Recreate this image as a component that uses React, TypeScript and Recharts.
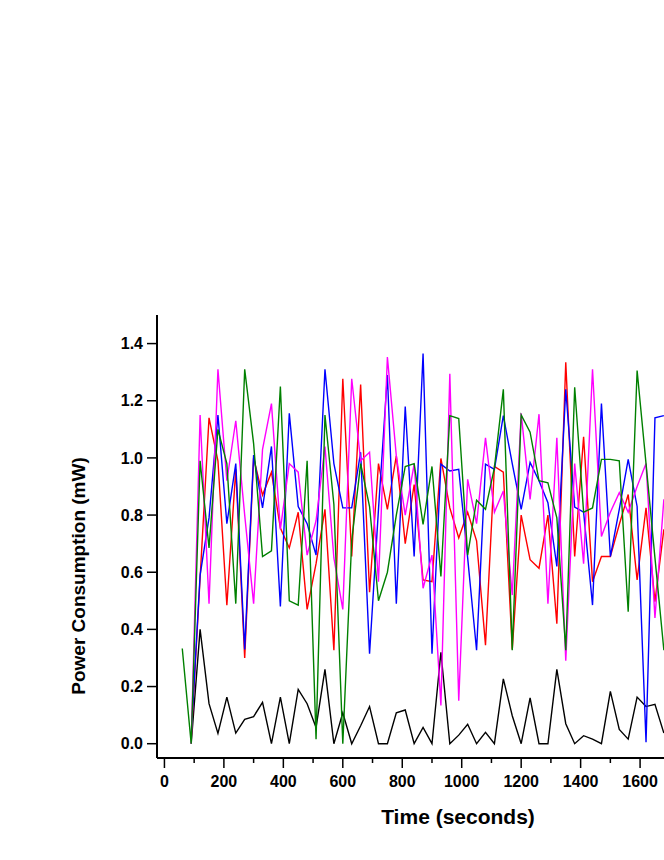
import React from 'react';
import { LineChart, Line, XAxis, YAxis } from 'recharts';

// sample times (s), one reading every 30 s
const TIME = [
  60, 90, 120, 150, 180, 210, 240, 270, 300, 330, 360, 390, 420, 450, 480, 510, 540, 570, 600,
  630, 660, 690, 720, 750, 780, 810, 840, 870, 900, 930, 960, 990, 1020, 1050, 1080, 1110, 1140,
  1170, 1200, 1230, 1260, 1290, 1320, 1350, 1380, 1410, 1440, 1470, 1500, 1530, 1560, 1590, 1620,
  1650, 1680,
];

const BLACK = [
  null, 0, 0.4, 0.14, 0.036, 0.163, 0.037, 0.085, 0.095, 0.145, 0, 0.163, 0, 0.19, 0.14, 0.057,
  0.26, 0, 0.108, 0, 0.063, 0.13, 0, 0, 0.108, 0.118, 0, 0.057, 0, 0.32, 0, 0.03, 0.068, 0, 0.04,
  0, 0.227, 0.098, 0, 0.16, 0, 0, 0.26, 0.07, 0, 0.028, 0.016, 0, 0.183, 0.05, 0.016, 0.163, 0.13,
  0.138, 0.037,
];

const RED = [
  null, 0.02, 0.58, 1.14, 0.99, 0.485, 0.96, 0.3, 1.0, 0.87, 0.95, 0.755, 0.685, 0.81, 0.47, 0.63,
  0.82, 0.327, 1.277, 0.655, 1.257, 0.53, 0.98, 0.82, 1.007, 0.7, 0.907, 0.573, 0.567, 0.998, 0.825,
  0.72, 0.81, 0.71, 0.345, 0.97, 0.95, 0.33, 0.8, 0.644, 0.614, 0.8, 0.42, 1.335, 0.655, 1.074,
  0.567, 0.655, 0.655, 0.767, 0.872, 0.573, 0.825, 0.497, 0.75,
];

const BLUE = [
  null, 0.03, 0.59, 0.79, 1.15, 0.77, 0.98, 0.33, 1.01, 0.825, 1.04, 0.48, 1.156, 0.83, 0.77, 0.66,
  1.31, 0.98, 0.825, 0.825, 1.02, 0.315, 0.82, 1.29, 0.49, 1.18, 0.655, 1.365, 0.315, 0.978, 0.954,
  0.96, 0.65, 0.327, 0.978, 0.96, 1.148, 0.98, 0.82, 0.984, 0.92, 0.843, 0.62, 1.24, 0.828, 0.81,
  0.485, 1.19, 0.655, 0.82, 0.995, 0.83, 0.005, 1.14, 1.148,
];

const MAGENTA = [
  null, 0, 1.15, 0.49, 1.31, 0.92, 1.13, 0.8, 0.49, 1.03, 1.19, 0.75, 0.98, 0.95, 0.66, 0.78, 1.04,
  0.65, 0.47, 1.277, 0.99, 1.02, 0.567, 1.353, 1.007, 0.8, 0.978, 0.544, 0.66, 0.134, 1.294, 0.15,
  0.925, 0.77, 1.07, 0.81, 0.884, 0.52, 1.156, 0.855, 1.153, 0.49, 1.07, 0.29, 0.98, 0.63, 1.31,
  0.725, 0.81, 0.878, 0.81, 0.9, 0.98, 0.44, 0.855,
];

const GREEN = [
  0.333, 0, 0.99, 0.685, 1.1, 0.98, 0.49, 1.31, 1.05, 0.655, 0.675, 1.25, 0.5, 0.485, 0.99, 0.016,
  1.15, 0.837, 0, 0.71, 0.98, 0.83, 0.5, 0.6, 0.8, 0.97, 0.98, 0.767, 0.97, 0.585, 1.148, 1.138,
  0.66, 0.852, 0.82, 0.966, 1.24, 0.327, 1.15, 1.09, 0.92, 0.913, 0.79, 0.327, 1.247, 0.81, 0.825,
  0.995, 0.995, 0.99, 0.462, 1.306, 0.98, 0.65, 0.327,
];

// only the ticks that fit inside the visible window
const X_TICKS = [0, 100, 200, 300, 400, 500, 600, 700, 800, 900, 1000, 1100, 1200, 1300, 1400, 1500, 1600];
const Y_TICKS = [0, 0.2, 0.4, 0.6, 0.8, 1.0, 1.2, 1.4];

const data = TIME.map((t, i) => ({
  t,
  black: BLACK[i],
  red: RED[i],
  blue: BLUE[i],
  magenta: MAGENTA[i],
  green: GREEN[i],
}));

const FONT = '"Liberation Sans", Arial, Helvetica, sans-serif';

const XTick = (props: any) => {
  const { x, y, payload } = props;
  const major = payload.value % 200 === 0;
  return (
    <g>
      <line x1={x} x2={x} y1={y} y2={y + (major ? 10 : 5)} stroke="#000" strokeWidth={1.5} />
      {major && (
        <text x={x} y={y + 29} textAnchor="middle" fill="#000" fontSize={16} fontWeight="bold" fontFamily={FONT}>
          {payload.value}
        </text>
      )}
    </g>
  );
};

const XTitle = () => (
  <text x={458} y={824} textAnchor="middle" fill="#000" fontSize={21} fontWeight="bold" fontFamily={FONT}>
    Time (seconds)
  </text>
);

const YTitle = () => (
  <text
    x={78}
    y={576}
    transform="rotate(-90 78 576)"
    textAnchor="middle"
    dominantBaseline="central"
    fill="#000"
    fontSize={19}
    fontWeight="bold"
    fontFamily={FONT}
  >
    Power Consumption (mW)
  </text>
);

const SERIES = [
  { key: 'black', color: '#000000' },
  { key: 'red', color: '#ff0000' },
  { key: 'blue', color: '#0000ff' },
  { key: 'magenta', color: '#ff00ff' },
  { key: 'green', color: '#008000' },
];

export default function App() {
  return (
    <div style={{ position: 'absolute', left: 0, top: 0, width: 664, height: 860, overflow: 'hidden', background: '#fff' }}>
      <LineChart width={800} height={860} data={data} margin={{ top: 315, right: 41, bottom: 0, left: 0 }}>
        <XAxis
          dataKey="t"
          type="number"
          domain={[-25, 2000]}
          ticks={X_TICKS}
          interval={0}
          allowDataOverflow
          tickSize={0}
          tickMargin={0}
          tickLine={false}
          tick={<XTick />}
          axisLine={{ stroke: '#000', strokeWidth: 2 }}
          height={102}
          label={{ content: () => <XTitle /> }}
        />
        <YAxis
          type="number"
          domain={[-0.05, 1.5]}
          ticks={Y_TICKS}
          interval={0}
          allowDataOverflow
          width={157}
          tickSize={10}
          tickMargin={4}
          tickFormatter={(v: number) => v.toFixed(1)}
          tick={{ fill: '#000', fontSize: 16, fontWeight: 'bold', fontFamily: FONT }}
          tickLine={{ stroke: '#000', strokeWidth: 1.5 }}
          axisLine={{ stroke: '#000', strokeWidth: 2 }}
          label={{ content: () => <YTitle /> }}
        />
        {SERIES.map((s) => (
          <Line
            key={s.key}
            type="linear"
            dataKey={s.key}
            stroke={s.color}
            strokeWidth={1.4}
            dot={false}
            activeDot={false}
            isAnimationActive={false}
          />
        ))}
      </LineChart>
    </div>
  );
}
